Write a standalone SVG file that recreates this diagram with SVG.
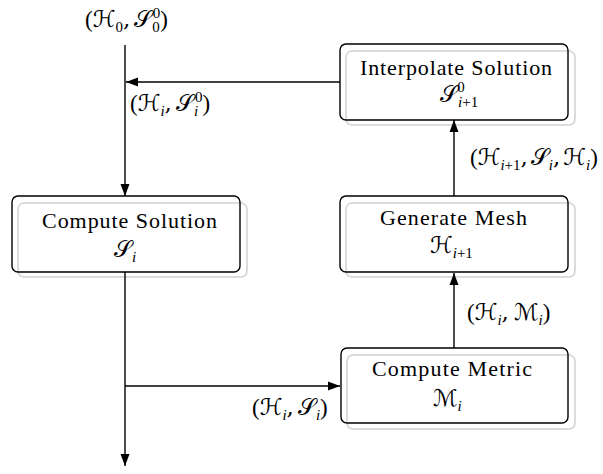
<svg xmlns="http://www.w3.org/2000/svg" width="603" height="474" viewBox="0 0 603 474">
<defs>
<marker id="ah" markerUnits="userSpaceOnUse" markerWidth="13" markerHeight="10" refX="12" refY="4.5" orient="auto" overflow="visible">
<path d="M0,0 L12,4.5 L0,9 z" fill="#000"/>
</marker>
<style>
.shadow{fill:none;stroke:#dcdcdc;stroke-width:2}
.box{fill:none;stroke:#000;stroke-width:1.4}
.t{font-family:"Liberation Serif","DejaVu Serif",serif;font-size:22px;fill:#000}
.m{font-family:"DejaVu Serif","DejaVu Sans","Liberation Serif",serif;font-size:23px;fill:#000}
.p{font-family:"Liberation Serif","DejaVu Serif",serif;font-size:23px}
.s{font-size:15px;font-family:"Liberation Serif","DejaVu Serif",serif}
.i{font-style:italic}
.c{stroke:#000;stroke-width:1.4;fill:none;marker-end:url(#ah)}
</style>
</defs>
<rect width="603" height="474" fill="#fff"/>
<g id="interpolate">
<rect class="shadow" x="346" y="51" width="229" height="74" rx="6"/>
<rect class="box" x="340" y="44" width="228" height="76" rx="6"/>
<text class="t" x="360" y="75" textLength="192" lengthAdjust="spacing">Interpolate Solution</text>
<text class="m" x="440" y="102">𝒮<tspan class="s i" dy="5">i</tspan><tspan class="s">+1</tspan><tspan class="s" dx="-21" dy="-15">0</tspan></text>
</g>
<g id="compute-solution">
<rect class="shadow" x="18" y="203" width="229" height="74" rx="6"/>
<rect class="box" x="12" y="196" width="228" height="76" rx="6"/>
<text class="t" x="42" y="228" textLength="175" lengthAdjust="spacing">Compute Solution</text>
<text class="m" x="114" y="257">𝒮<tspan class="s i" dy="5">i</tspan></text>
</g>
<g id="generate-mesh">
<rect class="shadow" x="346" y="203" width="229" height="74" rx="6"/>
<rect class="box" x="340" y="196" width="228" height="76" rx="6"/>
<text class="t" x="380" y="225" textLength="147" lengthAdjust="spacing">Generate Mesh</text>
<text class="m" x="430" y="253">ℋ<tspan class="s i" dy="5">i</tspan><tspan class="s">+1</tspan></text>
</g>
<g id="compute-metric">
<rect class="shadow" x="347" y="355" width="228" height="74" rx="6"/>
<rect class="box" x="341" y="348" width="227" height="75" rx="6"/>
<text class="t" x="372" y="376" textLength="160" lengthAdjust="spacing">Compute Metric</text>
<text class="m" x="433" y="406">ℳ<tspan class="s i" dy="5">i</tspan></text>
</g>
<g id="connectors">
<path class="c" d="M340,82 H126"/>
<path class="c" d="M125,45 V196"/>
<path class="c" d="M125,272 V466"/>
<path class="c" d="M125,386 H340"/>
<path class="c" d="M454,348 V273"/>
<path class="c" d="M454,196 V120"/>
</g>
<g id="labels">
<text class="m" x="85" y="27"><tspan class="p">(</tspan>ℋ<tspan class="s" dy="5">0</tspan><tspan dy="-5">,</tspan><tspan dx="4">𝒮</tspan><tspan class="s" dy="5">0</tspan><tspan class="s" dx="-7" dy="-14">0</tspan><tspan class="p" dy="9">)</tspan></text>
<text class="m" x="130" y="111"><tspan class="p">(</tspan>ℋ<tspan class="s i" dy="5">i</tspan><tspan dy="-5">,</tspan><tspan dx="4">𝒮</tspan><tspan class="s i" dy="5">i</tspan><tspan class="s" dx="-3" dy="-14">0</tspan><tspan class="p" dy="9">)</tspan></text>
<text class="m" x="470" y="165"><tspan class="p">(</tspan>ℋ<tspan class="s i" dy="5">i</tspan><tspan class="s">+1</tspan><tspan dy="-5">,</tspan><tspan dx="3">𝒮</tspan><tspan class="s i" dy="5">i</tspan><tspan dy="-5">,</tspan><tspan dx="3">ℋ</tspan><tspan class="s i" dy="5">i</tspan><tspan class="p" dy="-5">)</tspan></text>
<text class="m" x="467" y="320"><tspan class="p">(</tspan>ℋ<tspan class="s i" dy="5">i</tspan><tspan dy="-5">,</tspan><tspan dx="5">ℳ</tspan><tspan class="s i" dy="5">i</tspan><tspan class="p" dy="-5">)</tspan></text>
<text class="m" x="252" y="415"><tspan class="p">(</tspan>ℋ<tspan class="s i" dy="5">i</tspan><tspan dy="-5">,</tspan><tspan dx="4">𝒮</tspan><tspan class="s i" dy="5">i</tspan><tspan class="p" dy="-5">)</tspan></text>
</g>
</svg>
